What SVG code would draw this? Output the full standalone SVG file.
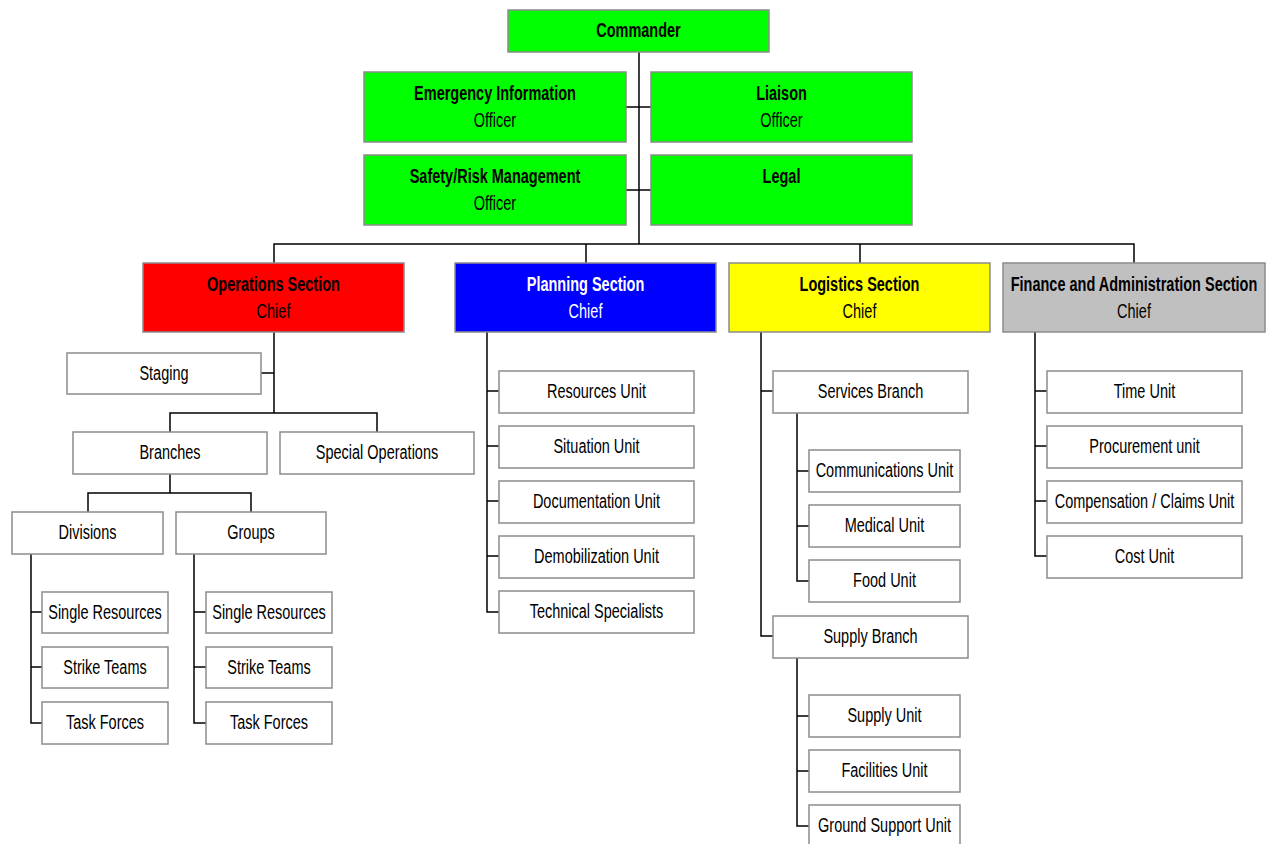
<svg xmlns="http://www.w3.org/2000/svg" width="1270" height="844" viewBox="0 0 1270 844">
<style>
.n{stroke:#8c8c8c;stroke-width:1.5}
.w{fill:#ffffff}
.g{fill:#00ff00}
text{font-family:"Liberation Sans",Arial,sans-serif;font-size:20px;text-anchor:middle;fill:#000}
.b{font-weight:bold}
.wt{fill:#ffffff}
#connectors path{fill:none;stroke:#000;stroke-width:1.5}
</style>
<g id="connectors">
<path d="M639 52V244M626 107H651M626 190H651"/>
<path d="M274 263V244H1134V263M586 244V263M860 244V263"/>
<path d="M274 332V413M261 373H274M170 432V413H377V432M170 474V493M88 512V493H251V512"/>
<path d="M31 554V723H42M31 612H42M31 667H42"/>
<path d="M194 554V723H206M194 612H206M194 667H206"/>
<path d="M487 332V612H499M487 391H499M487 446H499M487 501H499M487 556H499"/>
<path d="M761 332V636H773M761 391H773"/>
<path d="M797 413V581H809M797 471H809M797 526H809"/>
<path d="M797 658V826H809M797 716H809M797 771H809"/>
<path d="M1035 332V556H1047M1035 391H1047M1035 446H1047M1035 501H1047"/>
</g>
<g id="commander"><rect class="n g" x="508" y="10" width="261" height="42"/><text class="b" transform="translate(638.5 37) scale(0.725 1)">Commander</text></g>
<g id="emergency-info"><rect class="n g" x="364" y="72" width="262" height="70"/><text class="b" transform="translate(495 100) scale(0.725 1)">Emergency Information</text><text transform="translate(495 127) scale(0.725 1)">Officer</text></g>
<g id="liaison"><rect class="n g" x="651" y="72" width="261" height="70"/><text class="b" transform="translate(781.5 100) scale(0.725 1)">Liaison</text><text transform="translate(781.5 127) scale(0.725 1)">Officer</text></g>
<g id="safety"><rect class="n g" x="364" y="155" width="262" height="70"/><text class="b" transform="translate(495 183) scale(0.725 1)">Safety/Risk Management</text><text transform="translate(495 210) scale(0.725 1)">Officer</text></g>
<g id="legal"><rect class="n g" x="651" y="155" width="261" height="70"/><text class="b" transform="translate(781.5 183) scale(0.725 1)">Legal</text></g>
<g id="operations"><rect class="n" fill="#ff0000" x="143" y="263" width="261" height="69"/><text class="b" transform="translate(273.5 291) scale(0.725 1)">Operations Section</text><text transform="translate(273.5 318) scale(0.725 1)">Chief</text></g>
<g id="planning"><rect class="n" fill="#0000ff" x="455" y="263" width="261" height="69"/><text class="b wt" transform="translate(585.5 291) scale(0.725 1)">Planning Section</text><text class="wt" transform="translate(585.5 318) scale(0.725 1)">Chief</text></g>
<g id="logistics"><rect class="n" fill="#ffff00" x="729" y="263" width="261" height="69"/><text class="b" transform="translate(859.5 291) scale(0.725 1)">Logistics Section</text><text transform="translate(859.5 318) scale(0.725 1)">Chief</text></g>
<g id="finance"><rect class="n" fill="#c0c0c0" x="1003" y="263" width="262" height="69"/><text class="b" transform="translate(1134 291) scale(0.725 1)">Finance and Administration Section</text><text transform="translate(1134 318) scale(0.725 1)">Chief</text></g>
<g id="staging"><rect class="n w" x="67" y="353" width="194" height="41"/><text transform="translate(164 380) scale(0.725 1)">Staging</text></g>
<g id="branches"><rect class="n w" x="73" y="432" width="194" height="42"/><text transform="translate(170 459) scale(0.725 1)">Branches</text></g>
<g id="special-ops"><rect class="n w" x="280" y="432" width="194" height="42"/><text transform="translate(377 459) scale(0.725 1)">Special Operations</text></g>
<g id="divisions"><rect class="n w" x="12" y="512" width="151" height="42"/><text transform="translate(87.5 539) scale(0.725 1)">Divisions</text></g>
<g id="groups"><rect class="n w" x="176" y="512" width="150" height="42"/><text transform="translate(251 539) scale(0.725 1)">Groups</text></g>
<g id="div-single"><rect class="n w" x="42" y="592" width="126" height="41"/><text transform="translate(105 619) scale(0.725 1)">Single Resources</text></g>
<g id="div-strike"><rect class="n w" x="42" y="647" width="126" height="41"/><text transform="translate(105 674) scale(0.725 1)">Strike Teams</text></g>
<g id="div-task"><rect class="n w" x="42" y="702" width="126" height="42"/><text transform="translate(105 729) scale(0.725 1)">Task Forces</text></g>
<g id="grp-single"><rect class="n w" x="206" y="592" width="126" height="41"/><text transform="translate(269 619) scale(0.725 1)">Single Resources</text></g>
<g id="grp-strike"><rect class="n w" x="206" y="647" width="126" height="41"/><text transform="translate(269 674) scale(0.725 1)">Strike Teams</text></g>
<g id="grp-task"><rect class="n w" x="206" y="702" width="126" height="42"/><text transform="translate(269 729) scale(0.725 1)">Task Forces</text></g>
<g id="resources-unit"><rect class="n w" x="499" y="371" width="195" height="42"/><text transform="translate(596.5 398) scale(0.725 1)">Resources Unit</text></g>
<g id="situation-unit"><rect class="n w" x="499" y="426" width="195" height="42"/><text transform="translate(596.5 453) scale(0.725 1)">Situation Unit</text></g>
<g id="documentation-unit"><rect class="n w" x="499" y="481" width="195" height="42"/><text transform="translate(596.5 508) scale(0.725 1)">Documentation Unit</text></g>
<g id="demobilization-unit"><rect class="n w" x="499" y="536" width="195" height="42"/><text transform="translate(596.5 563) scale(0.725 1)">Demobilization Unit</text></g>
<g id="technical-specialists"><rect class="n w" x="499" y="591" width="195" height="42"/><text transform="translate(596.5 618) scale(0.725 1)">Technical Specialists</text></g>
<g id="services-branch"><rect class="n w" x="773" y="371" width="195" height="42"/><text transform="translate(870.5 398) scale(0.725 1)">Services Branch</text></g>
<g id="communications-unit"><rect class="n w" x="809" y="450" width="151" height="42"/><text transform="translate(884.5 477) scale(0.725 1)">Communications Unit</text></g>
<g id="medical-unit"><rect class="n w" x="809" y="505" width="151" height="42"/><text transform="translate(884.5 532) scale(0.725 1)">Medical Unit</text></g>
<g id="food-unit"><rect class="n w" x="809" y="560" width="151" height="42"/><text transform="translate(884.5 587) scale(0.725 1)">Food Unit</text></g>
<g id="supply-branch"><rect class="n w" x="773" y="616" width="195" height="42"/><text transform="translate(870.5 643) scale(0.725 1)">Supply Branch</text></g>
<g id="supply-unit"><rect class="n w" x="809" y="695" width="151" height="42"/><text transform="translate(884.5 722) scale(0.725 1)">Supply Unit</text></g>
<g id="facilities-unit"><rect class="n w" x="809" y="750" width="151" height="42"/><text transform="translate(884.5 777) scale(0.725 1)">Facilities Unit</text></g>
<g id="ground-support-unit"><rect class="n w" x="809" y="805" width="151" height="42"/><text transform="translate(884.5 832) scale(0.725 1)">Ground Support Unit</text></g>
<g id="time-unit"><rect class="n w" x="1047" y="371" width="195" height="42"/><text transform="translate(1144.5 398) scale(0.725 1)">Time Unit</text></g>
<g id="procurement-unit"><rect class="n w" x="1047" y="426" width="195" height="42"/><text transform="translate(1144.5 453) scale(0.725 1)">Procurement unit</text></g>
<g id="compensation-unit"><rect class="n w" x="1047" y="481" width="195" height="42"/><text transform="translate(1144.5 508) scale(0.725 1)">Compensation / Claims Unit</text></g>
<g id="cost-unit"><rect class="n w" x="1047" y="536" width="195" height="42"/><text transform="translate(1144.5 563) scale(0.725 1)">Cost Unit</text></g>
</svg>
